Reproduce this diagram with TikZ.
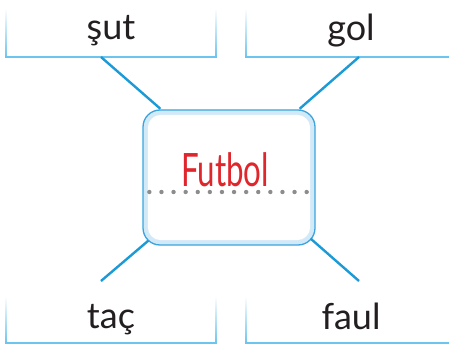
\documentclass[tikz,border=0pt]{standalone}
\usepackage{fontspec}
\setmainfont{Lato}
\usetikzlibrary{calc}
\definecolor{ink}{HTML}{231F20}
\definecolor{redt}{HTML}{E0262D}
\definecolor{conn}{HTML}{1B9AD6}
\definecolor{boxline}{HTML}{6CC5EE}
\definecolor{mainline}{HTML}{3BA4DE}
\definecolor{band}{HTML}{D2EAF8}
\definecolor{dotc}{HTML}{8C8C8C}
\tikzset{
  word/.style={anchor=base, inner sep=0pt, text=ink, font=\fontsize{36}{40}\selectfont},
  conline/.style={draw=conn, line width=2.4pt},
  baseline/.style={draw=boxline, line width=1.6pt},
  fadeside/.style={top color=white, bottom color=boxline, draw=none},
}
\begin{document}
\begin{tikzpicture}[x=1pt,y=1pt]
\useasboundingbox (0,0) rectangle (449,348);
\begin{scope}
\clip (0,0) rectangle (449,348);
% answer boxes (top)
\shade[fadeside] (5.2,291) rectangle (6.8,340);
\shade[fadeside] (215.2,291) rectangle (216.8,340);
\draw[baseline] (5.2,291) -- (216.8,291);
\shade[fadeside] (245.2,291) rectangle (246.8,340);
\draw[baseline] (245.2,291) -- (460,291);
% answer boxes (bottom)
\shade[fadeside] (5.2,5) rectangle (6.8,52);
\shade[fadeside] (215.2,5) rectangle (216.8,52);
\draw[baseline] (5.2,5) -- (216.8,5);
\shade[fadeside] (245.2,5) rectangle (246.8,52);
\draw[baseline] (245.2,5) -- (460,5);
\end{scope}
% words
\node[word] (sut) at (111,308) {şut};
\node[word] (gol) at (351,307) {gol};
\node[word] (tac) at (111,20) {taç};
\node[word] (faul) at (351,19) {faul};
% connector endpoints
\coordinate (sutend) at (101,291);
\coordinate (golend) at (359,291);
\coordinate (tacend) at (101,67);
\coordinate (faulend) at (359,67);
% central box
\node[draw=mainline, line width=1.3pt, fill=band, rounded corners=17pt,
      minimum width=172pt, minimum height=135pt, inner sep=0pt] (main) at (229,170.5) {};
\fill[white, rounded corners=13pt] ($(main.south west)+(5.5,5.5)$) rectangle ($(main.north east)+(-5.5,-5.5)$);
\draw[dotc, line width=4.4pt, line cap=round, dash pattern=on 0pt off 12.1pt]
  ($(main.west)+(7,-14.5)$) -- ($(main.east)+(-6,-14.5)$);
\node[anchor=base, inner sep=0pt, text=redt, font=\fontsize{46}{50}\selectfont, xscale=0.68] (title) at (225,161) {Futbol};
% connectors
\draw[conline] (sutend) -- ($(main.north west)+(18,0.6)$);
\draw[conline] (golend) -- ($(main.north east)+(-16,0.6)$);
\draw[conline] (tacend) -- ($(main.south west)+(6,5)$);
\draw[conline] (faulend) -- ($(main.south east)+(-5,7)$);
\end{tikzpicture}
\end{document}
